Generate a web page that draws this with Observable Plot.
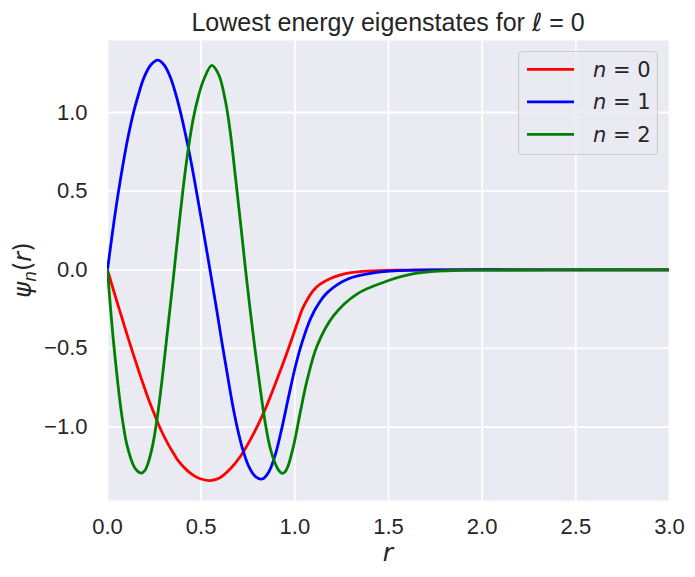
<!DOCTYPE html>
<html><head><meta charset="utf-8">
<script src="https://cdn.jsdelivr.net/npm/d3@7"></script>
<script src="https://cdn.jsdelivr.net/npm/@observablehq/plot@0.6"></script>
<style>
body{margin:0;background:#fff;}
</style></head>
<body>
<div id="chart"></div>
<script>
// ---- data ----
const seriesNames = ["n = 0", "n = 1", "n = 2"];
const seriesLabels = ["0", "1", "2"];
const seriesColors = ["#ff0000", "#0000ff", "#008000"];

const r0 = [0, 0.037, 0.073, 0.109, 0.144, 0.18, 0.215, 0.251, 0.286, 0.322, 0.354, 0.375, 0.429, 0.47, 0.5, 0.55, 0.603, 0.656, 0.71, 0.763, 0.835, 0.906, 0.959, 1.013, 1.04, 1.066, 1.1, 1.137, 1.19, 1.244, 1.3, 1.387, 1.564, 1.8, 2.2, 2.6, 3.0];
const psi0 = [0, -0.15, -0.29, -0.43, -0.56, -0.69, -0.81, -0.92, -1.02, -1.105, -1.17, -1.21, -1.28, -1.315, -1.33, -1.34, -1.32, -1.265, -1.185, -1.08, -0.905, -0.693, -0.524, -0.34, -0.25, -0.19, -0.13, -0.09, -0.055, -0.032, -0.018, -0.008, -0.002, 0, 0, 0, 0];

const r1 = [0, 0.028, 0.055, 0.087, 0.109, 0.141, 0.162, 0.194, 0.233, 0.269, 0.304, 0.34, 0.375, 0.411, 0.447, 0.482, 0.514, 0.55, 0.585, 0.612, 0.639, 0.665, 0.692, 0.719, 0.754, 0.79, 0.826, 0.861, 0.897, 0.932, 0.968, 1.004, 1.039, 1.084, 1.13, 1.173, 1.28, 1.422, 1.564, 1.8, 2.2, 2.6, 3.0];
const psi1 = [0, 0.25, 0.47, 0.70, 0.84, 1.01, 1.10, 1.22, 1.305, 1.333, 1.30, 1.21, 1.07, 0.89, 0.68, 0.45, 0.23, -0.02, -0.27, -0.47, -0.66, -0.84, -1.00, -1.13, -1.25, -1.315, -1.33, -1.285, -1.17, -1.0, -0.80, -0.61, -0.46, -0.31, -0.21, -0.145, -0.06, -0.019, -0.005, 0, 0, 0, 0];

const r2 = [0, 0.02, 0.034, 0.055, 0.069, 0.082, 0.105, 0.141, 0.16, 0.18, 0.2, 0.215, 0.242, 0.269, 0.295, 0.322, 0.349, 0.375, 0.402, 0.429, 0.456, 0.487, 0.514, 0.557, 0.594, 0.63, 0.656, 0.683, 0.71, 0.737, 0.763, 0.79, 0.817, 0.843, 0.87, 0.902, 0.917, 0.932, 0.947, 0.963, 0.995, 1.03, 1.066, 1.12, 1.208, 1.333, 1.475, 1.635, 1.814, 2.0, 2.4, 3.0];
const psi2 = [0, -0.30, -0.48, -0.72, -0.86, -0.97, -1.12, -1.25, -1.28, -1.293, -1.275, -1.235, -1.11, -0.91, -0.66, -0.37, -0.08, 0.21, 0.50, 0.75, 0.95, 1.11, 1.21, 1.30, 1.24, 1.07, 0.87, 0.59, 0.30, 0.0, -0.27, -0.53, -0.77, -0.98, -1.14, -1.25, -1.28, -1.294, -1.285, -1.25, -1.11, -0.90, -0.70, -0.48, -0.29, -0.153, -0.079, -0.025, -0.006, -0.002, 0, 0];

const xTicks = [0, 0.5, 1.0, 1.5, 2.0, 2.5, 3.0];
const yTicks = [-1.0, -0.5, 0.0, 0.5, 1.0];

// ---- build table ----
const rs = [r0, r1, r2], ps = [psi0, psi1, psi2];
const data = [];
rs.forEach((rr, i) => rr.forEach((r, j) => data.push({series: seriesNames[i], r, psi: ps[i][j]})));

const fmt = d => (d < 0 ? "\u2212" : "") + Math.abs(d).toFixed(1);

const plot = Plot.plot({
  width: 695, height: 577,
  marginTop: 40, marginBottom: 77, marginLeft: 107, marginRight: 26,
  style: {fontFamily: '"Liberation Sans", Arial, sans-serif', fontSize: "22px", color: "#262626", background: "#ffffff"},
  x: {domain: [0, 3], ticks: xTicks, tickFormat: fmt, tickSize: 0, tickPadding: 18, label: null},
  y: {domain: [-1.4667, 1.4577], ticks: yTicks, tickFormat: fmt, tickSize: 0, tickPadding: 20, label: null},
  color: {domain: seriesNames, range: seriesColors},
  marks: [
    Plot.frame({fill: "#eaeaf2", stroke: "none"}),
    Plot.gridX(xTicks, {stroke: "#ffffff", strokeOpacity: 1, strokeWidth: 1.8}),
    Plot.gridY(yTicks, {stroke: "#ffffff", strokeOpacity: 1, strokeWidth: 1.8}),
    Plot.line(data, {x: "r", y: "psi", z: "series", stroke: "series", strokeWidth: 2.8, curve: "catmull-rom", clip: true})
  ]
});
document.getElementById("chart").appendChild(plot);

const svg = d3.select(plot);
const ink = "#262626";

// title
const t = svg.append("text").attr("x", 388).attr("y", 31).attr("text-anchor", "middle")
  .attr("fill", ink).style("font-family", '"Liberation Sans", Arial, sans-serif').style("font-size", "25px");
t.append("tspan").text("Lowest energy eigenstates for ");
t.append("tspan").style("font-family", '"DejaVu Sans", sans-serif').style("font-style", "italic").text("\u2113");
t.append("tspan").text(" = 0");

// x label
svg.append("text").attr("x", 388).attr("y", 561).attr("text-anchor", "middle").attr("fill", ink)
  .style("font-family", '"DejaVu Sans", sans-serif').style("font-style", "italic").style("font-size", "25px").text("r");

// y label
const yl = svg.append("text").attr("transform", "translate(31,270) rotate(-90)").attr("text-anchor", "middle").attr("fill", ink)
  .style("font-family", '"DejaVu Sans", sans-serif').style("font-size", "24px");
yl.append("tspan").style("font-style", "italic").text("\u03c8");
yl.append("tspan").style("font-style", "italic").style("font-size", "17px").attr("dy", "5").text("n");
yl.append("tspan").attr("dy", "-5").text("(");
yl.append("tspan").style("font-style", "italic").text("r");
yl.append("tspan").text(")");

// legend
const lg = svg.append("g");
lg.append("rect").attr("x", 518.5).attr("y", 51.5).attr("width", 139).attr("height", 103).attr("rx", 4)
  .attr("fill", "#eaeaf2").attr("fill-opacity", 0.8).attr("stroke", "#cccccc").attr("stroke-width", 1.2);
seriesNames.forEach((name, i) => {
  const cy = 69.3 + i * 32.5;
  lg.append("line").attr("x1", 527).attr("x2", 574).attr("y1", cy).attr("y2", cy)
    .attr("stroke", seriesColors[i]).attr("stroke-width", 2.8);
  const tx = lg.append("text").attr("x", 593).attr("y", cy + 7.5).attr("fill", ink).attr("text-anchor", "start")
    .style("font-family", '"DejaVu Sans", sans-serif').style("font-size", "21px");
  tx.append("tspan").style("font-style", "italic").text("n");
  tx.append("tspan").text(" = " + seriesLabels[i]);
});
</script>
</body></html>
